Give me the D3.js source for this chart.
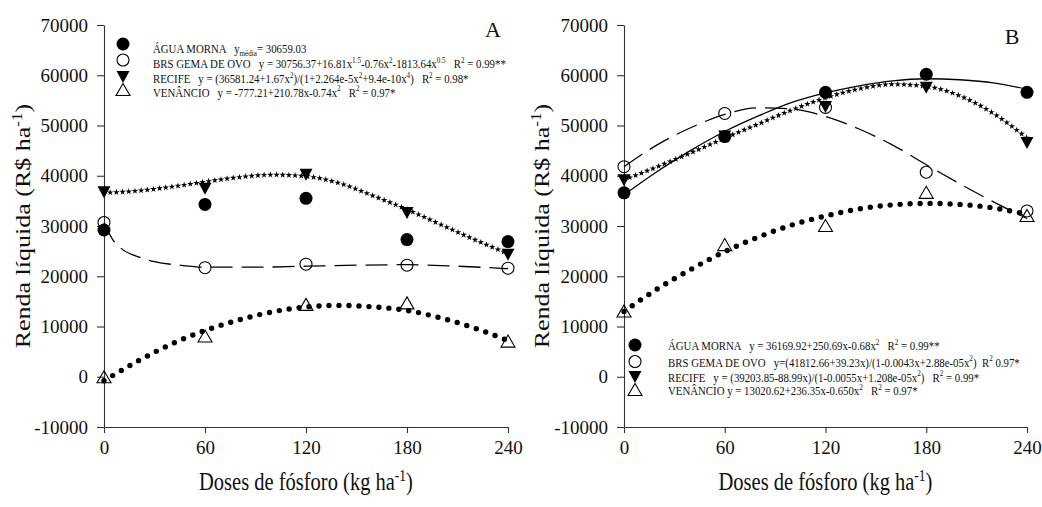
<!doctype html>
<html>
<head>
<meta charset="utf-8" />
<title>Renda líquida x doses de fósforo</title>
<script src="https://cdn.jsdelivr.net/npm/d3@7"></script>
<style>
  body { margin: 0; background: #fff; }
  text { font-family: "Liberation Serif", "Times New Roman", serif; fill: #111; }
</style>
</head>
<body>
<svg id="chart" width="1042" height="507"></svg>
<script>
// doses de fósforo (kg ha-1) and y ticks
var doses = [0, 60, 120, 180, 240];
var yTicks = [-10000, 0, 10000, 20000, 30000, 40000, 50000, 60000, 70000];

// panel A, observed values
var aAgua     = [29200, 34300, 35500, 27300, 26900];
var aGema     = [30700, 21700, 22400, 22200, 21600];
var aRecife   = [36800, 37500, 40300, 32700, 24400];
var aVenancio = [-100, 8000, 14300, 14600, 7000];

// panel A, fitted curves [dose, value]
var aGemaFit = [[0, 30700], [5, 27400], [10, 25600], [20, 23900], [30, 22900], [45, 22200], [60, 21800],
                [90, 21800], [120, 22000], [150, 22200], [180, 22300], [210, 22000], [240, 21500]];
var aRecifeFit = [[0, 36600], [20, 37000], [40, 37800], [60, 38800], [80, 39700], [100, 40200], [120, 39900],
                  [140, 38500], [160, 36000], [180, 33300], [200, 30300], [220, 27300], [240, 24500]];
var aVenancioFit = [[0, -800], [20, 3100], [40, 6500], [60, 9200], [80, 11300], [100, 12900], [120, 13900],
                    [140, 14200], [160, 13900], [180, 13200], [200, 11700], [220, 9700], [240, 7200]];

// panel B, observed values
var bAgua     = [36600, 47800, 56600, 60200, 56600];
var bGema     = [41800, 52400, 53600, 40700, 33000];
var bRecife   = [39200, 47900, 53800, 57600, 46600];
var bVenancio = [13000, 26200, 30000, 36600, 32000];

// panel B, fitted curves
var bAguaFit = [[0, 36200], [20, 40900], [40, 45100], [60, 48800], [80, 51900], [100, 54600], [120, 56500],
                [140, 57900], [160, 58900], [180, 59300], [200, 59100], [220, 58500], [240, 57200]];
var bGemaFit = [[0, 41800], [20, 46200], [40, 49600], [60, 52200], [80, 53500], [100, 53300], [120, 51800],
                [140, 49300], [160, 46100], [180, 42200], [200, 38400], [220, 34800], [240, 31500]];
var bRecifeFit = [[0, 39200], [20, 41800], [40, 44600], [60, 47500], [80, 50300], [100, 53100], [120, 55500],
                  [140, 57300], [160, 58200], [180, 57800], [200, 55900], [220, 52400], [240, 47500]];
var bVenancioFit = [[0, 13000], [20, 17500], [40, 21400], [60, 24900], [80, 27800], [100, 30200], [120, 32000],
                    [140, 33400], [160, 34200], [180, 34500], [200, 34300], [220, 33600], [240, 32300]];

// legend texts: [text, 'sup' | 'sub' | '']
var aLegend = [
  [["ÁGUA MORNA   y", ""], ["média", "sub"], ["= 30659.03", ""]],
  [["BRS GEMA DE OVO   y = 30756.37+16.81x", ""], ["1.5", "sup"], ["-0.76x", ""], ["2", "sup"], ["-1813.64x", ""], ["0.5", "sup"], ["   R", ""], ["2", "sup"], [" = 0.99**", ""]],
  [["RECIFE   y = (36581.24+1.67x", ""], ["2", "sup"], [")/(1+2.264e-5x", ""], ["2", "sup"], ["+9.4e-10x", ""], ["4", "sup"], [")   R", ""], ["2", "sup"], [" = 0.98*", ""]],
  [["VENÂNCIO   y = -777.21+210.78x-0.74x", ""], ["2", "sup"], ["   R", ""], ["2", "sup"], [" = 0.97*", ""]]
];
var bLegend = [
  [["ÁGUA MORNA   y = 36169.92+250.69x-0.68x", ""], ["2", "sup"], ["   R", ""], ["2", "sup"], [" = 0.99**", ""]],
  [["BRS GEMA DE OVO   y=(41812.66+39.23x)/(1-0.0043x+2.88e-05x", ""], ["2", "sup"], [")  R", ""], ["2", "sup"], [" 0.97*", ""]],
  [["RECIFE   y = (39203.85-88.99x)/(1-0.0055x+1.208e-05x", ""], ["2", "sup"], [")   R", ""], ["2", "sup"], [" = 0.99*", ""]],
  [["VENÂNCIO y = 13020.62+236.35x-0.650x", ""], ["2", "sup"], ["   R", ""], ["2", "sup"], [" = 0.97*", ""]]
];
var markerKeys = ["agua", "gema", "recife", "venancio"];

var svg = d3.select("#chart");
var SQ = 0.82; // the original figure is squeezed horizontally

function richText(g, x, y, size, anchor, parts) {
  var t = g.append("text")
    .attr("transform", "translate(" + x + "," + y + ") scale(" + SQ + ",1)")
    .attr("font-size", size)
    .attr("text-anchor", anchor)
    .style("white-space", "pre");
  var shift = 0;
  parts.forEach(function(p) {
    var s = t.append("tspan").text(p[0]);
    var target = p[1] === "sup" ? -size * 0.38 : p[1] === "sub" ? size * 0.22 : 0;
    if (p[1]) s.attr("font-size", size * 0.66);
    if (target !== shift) { s.attr("dy", target - shift); shift = target; }
  });
  return t;
}

function marker(g, key, cx, cy) {
  if (key === "agua") {
    g.append("circle").attr("cx", cx).attr("cy", cy).attr("r", 6.5).attr("fill", "#000");
  } else if (key === "gema") {
    g.append("circle").attr("cx", cx).attr("cy", cy).attr("r", 6).attr("fill", "none")
      .attr("stroke", "#000").attr("stroke-width", 1.1);
  } else if (key === "recife") {
    g.append("path").attr("fill", "#000")
      .attr("d", "M" + (cx - 6.5) + "," + (cy - 5.5) + "L" + (cx + 6.5) + "," + (cy - 5.5) + "L" + cx + "," + (cy + 6.5) + "Z");
  } else {
    g.append("path").attr("fill", "none").attr("stroke", "#000").attr("stroke-width", 1.1)
      .attr("d", "M" + cx + "," + (cy - 6.5) + "L" + (cx + 7) + "," + (cy + 5.5) + "L" + (cx - 7) + "," + (cy + 5.5) + "Z");
  }
}

function drawPanel(p) {
  var x = d3.scaleLinear().domain([0, 240]).range([p.left, p.right]);
  var y = d3.scaleLinear().domain([-10000, 70000]).range([427, 25]);
  var g = svg.append("g");

  var yAxis = g.append("g").attr("transform", "translate(" + p.left + ",0)")
    .call(d3.axisLeft(y).tickValues(yTicks).tickSize(7).tickSizeOuter(0).tickPadding(9).tickFormat(String));
  var xAxis = g.append("g").attr("transform", "translate(0,427)")
    .call(d3.axisBottom(x).tickValues(doses).tickSize(6).tickSizeOuter(0).tickPadding(8).tickFormat(String));
  [yAxis, xAxis].forEach(function(a) {
    a.attr("font-family", null).attr("font-size", 19);
    a.selectAll("path, line").attr("stroke", "#333").attr("stroke-width", 1.1);
    a.selectAll("text").attr("fill", "#111");
  });

  richText(g, p.yTitleX, 226, 26, "middle", [["Renda líquida (R$ ha", ""], ["-1", "sup"], [")", ""]])
    .attr("transform", "translate(" + p.yTitleX + ",226) rotate(-90) scale(1," + SQ + ")");
  richText(g, (p.left + p.right) / 2, 490, 25, "middle", [["Doses de fósforo (kg ha", ""], ["-1", "sup"], [")", ""]]);
  g.append("text").attr("x", p.tagX).attr("y", p.tagY).attr("font-size", 22).attr("text-anchor", "middle").text(p.tag);

  var line = d3.line().x(function(d) { return x(d[0]); }).y(function(d) { return y(d[1]); }).curve(d3.curveMonotoneX);
  var lines = g.append("g").attr("fill", "none");

  if (p.aguaFit) lines.append("path").attr("d", line(p.aguaFit)).attr("stroke", "#000").attr("stroke-width", 1.3);
  lines.append("path").attr("d", line(p.gemaFit)).attr("stroke", "#000").attr("stroke-width", 1.3)
    .attr("stroke-dasharray", "22,9");
  lines.append("path").attr("d", line(p.venancioFit)).attr("stroke", "#000").attr("stroke-width", 5.4)
    .attr("stroke-linecap", "round").attr("stroke-dasharray", "0,10");

  // Recife: a chain of little stars along the fitted curve
  var guide = lines.append("path").attr("d", line(p.recifeFit)).attr("stroke", "none").node();
  var len = guide.getTotalLength();
  var star = d3.symbol(d3.symbolStar, 13)();
  for (var s = 0; s <= len; s += 6.2) {
    var q = guide.getPointAtLength(s);
    lines.append("path").attr("d", star).attr("fill", "#000").attr("transform", "translate(" + q.x + "," + q.y + ")");
  }

  var pts = g.append("g");
  var series = { agua: p.agua, gema: p.gema, recife: p.recife, venancio: p.venancio };
  ["venancio", "gema", "recife", "agua"].forEach(function(k) {
    series[k].forEach(function(v, i) { marker(pts, k, x(doses[i]), y(v)); });
  });

  var lg = g.append("g");
  p.legend.forEach(function(row, i) {
    marker(lg, markerKeys[i], p.legX, p.legMarkY[i]);
    richText(lg, p.legTextX, p.legTextY[i], 13.2, "start", row);
  });
}

drawPanel({
  left: 104, right: 508, yTitleX: 30, tag: "A", tagX: 493, tagY: 37,
  agua: aAgua, gema: aGema, recife: aRecife, venancio: aVenancio,
  aguaFit: null, gemaFit: aGemaFit, recifeFit: aRecifeFit, venancioFit: aVenancioFit,
  legend: aLegend, legX: 123, legMarkY: [44, 60, 76.5, 90], legTextX: 153, legTextY: [53, 68, 83, 96.5]
});
drawPanel({
  left: 624, right: 1027, yTitleX: 549, tag: "B", tagX: 1012, tagY: 44,
  agua: bAgua, gema: bGema, recife: bRecife, venancio: bVenancio,
  aguaFit: bAguaFit, gemaFit: bGemaFit, recifeFit: bRecifeFit, venancioFit: bVenancioFit,
  legend: bLegend, legX: 635, legMarkY: [345, 361.5, 376.5, 390], legTextX: 668, legTextY: [350, 366.5, 381.5, 395]
});
</script>
</body>
</html>
